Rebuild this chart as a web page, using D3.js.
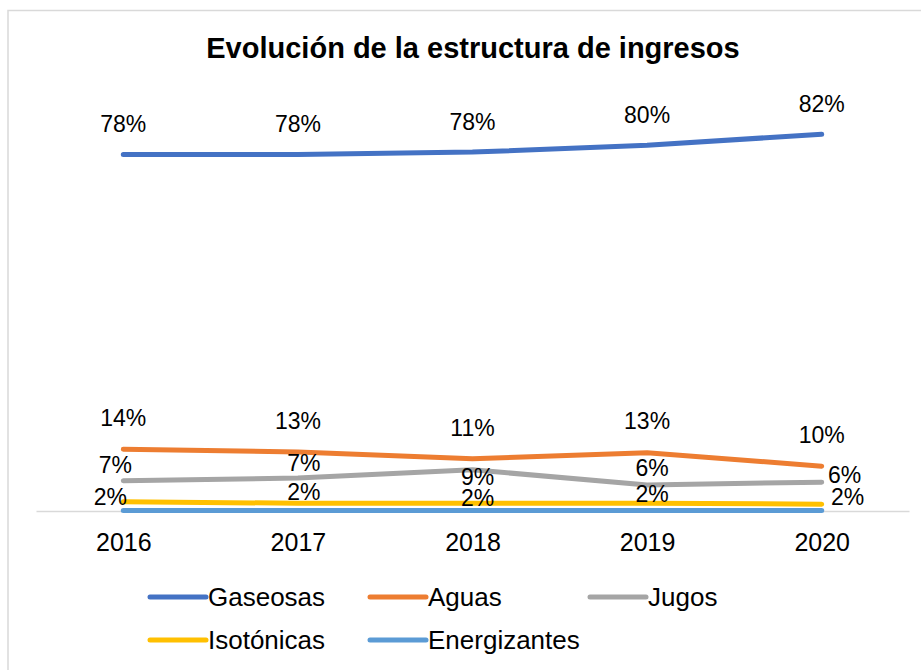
<!DOCTYPE html>
<html>
<head>
<meta charset="utf-8">
<script src="https://cdn.jsdelivr.net/npm/d3@7"></script>
<style>
  body { margin: 0; background: #fff; }
  svg text { font-family: Arial, "Liberation Sans", sans-serif; fill: #000; }
</style>
</head>
<body>
<svg id="chart"></svg>
<script>
// datos
let years = ["2016", "2017", "2018", "2019", "2020"];
let seriesNames = ["Gaseosas", "Aguas", "Jugos", "Isotónicas", "Energizantes"];
let gaseosas = [0.779, 0.779, 0.784, 0.799, 0.823];
let aguas = [0.135, 0.129, 0.114, 0.127, 0.098];
let jugos = [0.066, 0.072, 0.090, 0.057, 0.063];
let isotonicas = [0.020, 0.017, 0.017, 0.017, 0.015];
let energizantes = [0.001, 0.001, 0.001, 0.001, 0.001];

let colors = ["#4472C4", "#ED7D31", "#A5A5A5", "#FFC000", "#5B9BD5"];

// desplazamiento de las etiquetas respecto al punto [dx, dy]
let labelOffsets = [
    [[0, -30], [0, -30], [0, -30], [0, -30], [0, -30]],
    [[0, -31], [0, -31], [0, -31], [0, -32], [0, -31]],
    [[-8, -16], [6, -15], [5, 7], [5, -17], [23, -7]],
    [[-13, -5], [6, -11], [5, -5], [5, -9], [26, -7]],
    null
];

function drawChart() {
    let width = 921;
    let height = 670;
    let svg = d3.select("#chart")
        .attr("width", width)
        .attr("height", height);

    // borde del área del gráfico
    svg.append("path")
        .attr("d", "M8,670 V10.5 H921")
        .attr("fill", "none")
        .attr("stroke", "#d9d9d9")
        .attr("stroke-width", 1.5);

    // título
    svg.append("text")
        .attr("x", 473)
        .attr("y", 58)
        .attr("text-anchor", "middle")
        .style("font-size", "29px")
        .style("font-weight", "bold")
        .text("Evolución de la estructura de ingresos");

    let plotLeft = 36;
    let plotRight = 909;

    let scaleX = d3.scalePoint()
        .domain(years)
        .range([plotLeft, plotRight])
        .padding(0.5);
    let scaleY = d3.scaleLinear()
        .domain([0, 0.9])
        .range([511, 99]);

    // eje X
    let axisX = d3.axisBottom(scaleX).tickSize(0).tickPadding(22);
    let gx = svg.append("g")
        .attr("transform", `translate(0, ${scaleY(0)})`)
        .call(axisX);
    gx.select(".domain")
        .attr("stroke", "#d9d9d9")
        .attr("stroke-width", 1.5);
    gx.selectAll("text")
        .style("font-size", "25px")
        .style("font-family", "Arial, 'Liberation Sans', sans-serif")
        .attr("fill", "#000");

    let allSeries = [gaseosas, aguas, jugos, isotonicas, energizantes];
    let line = d3.line()
        .x((d, i) => scaleX(years[i]))
        .y(d => scaleY(d));

    // dibujamos de la última serie a la primera
    for (let s = allSeries.length - 1; s >= 0; s--) {
        svg.append("path")
            .datum(allSeries[s])
            .attr("d", line)
            .attr("fill", "none")
            .attr("stroke", colors[s])
            .attr("stroke-width", 5)
            .attr("stroke-linecap", "round")
            .attr("stroke-linejoin", "round");
    }

    // etiquetas de datos
    let fmt = d3.format(".0%");
    allSeries.forEach((values, s) => {
        if (!labelOffsets[s]) return;
        svg.selectAll(null)
            .data(values)
            .enter()
            .append("text")
            .attr("x", (d, i) => scaleX(years[i]) + labelOffsets[s][i][0])
            .attr("y", (d, i) => scaleY(d) + labelOffsets[s][i][1])
            .attr("dy", "0.35em")
            .attr("text-anchor", "middle")
            .style("font-size", "23px")
            .text(d => fmt(d));
    });

    // leyenda
    let legendPos = [[150, 597], [370, 597], [590, 597], [150, 640], [370, 640]];
    let legend = svg.selectAll(".legendItem")
        .data(seriesNames)
        .enter()
        .append("g")
        .attr("class", "legendItem")
        .attr("transform", (d, i) => `translate(${legendPos[i][0]}, ${legendPos[i][1]})`);
    legend.append("line")
        .attr("x1", 0)
        .attr("x2", 56)
        .attr("stroke", (d, i) => colors[i])
        .attr("stroke-width", 5)
        .attr("stroke-linecap", "round");
    legend.append("text")
        .attr("x", 58)
        .attr("dy", "0.35em")
        .style("font-size", "26px")
        .text(d => d);
}

drawChart();
</script>
</body>
</html>
